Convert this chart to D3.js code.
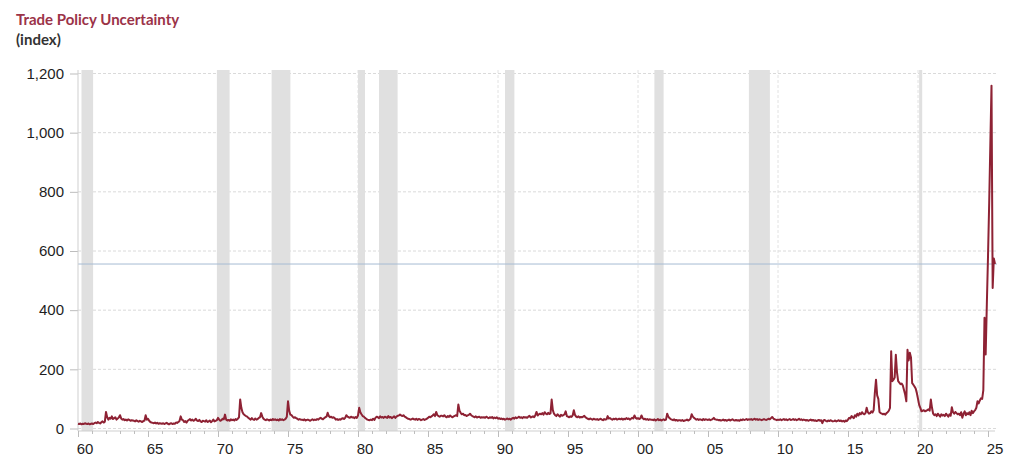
<!DOCTYPE html>
<html>
<head>
<meta charset="utf-8">
<script src="https://cdn.jsdelivr.net/npm/d3@7"></script>
<style>
  body { margin: 0; background: #fff; }
  svg { display: block; }
</style>
</head>
<body>
<svg id="chart" width="1024" height="466"></svg>
<script>
// monthly index values, Jan 1960 onward
var tpu1960s = [
    16, 15, 17, 14, 16, 15, 18, 16, 15, 17, 14, 16,
    17, 15, 18, 20, 18, 22, 19, 17, 21, 24, 20, 23,
    56, 38, 30, 36, 33, 41, 32, 35, 38, 30, 34, 37,
    45, 34, 30, 32, 28, 30, 27, 31, 29, 26, 28, 27,
    26, 24, 28, 25, 23, 26, 24, 22, 25, 27, 45, 30,
    33, 26, 22, 20, 19, 18, 20, 17, 19, 16, 18, 17,
    16, 18, 15, 17, 19, 16, 14, 17, 18, 15, 17, 16,
    20, 19, 22, 25, 41, 30, 28, 22, 25, 20, 26, 29,
    32, 27, 30, 26, 28, 33, 27, 25, 29, 24, 22, 26,
    25, 23, 28, 22, 24, 27, 21, 25, 30, 24, 26, 28
];
var tpu1970s = [
    36, 30, 26, 28, 33, 31, 47, 30, 27, 29, 26, 31,
    28, 30, 27, 32, 29, 33, 38, 98, 70, 55, 48, 45,
    42, 40, 36, 33, 30, 35, 31, 29, 34, 30, 32, 36,
    38, 52, 40, 33, 30, 28, 31, 29, 27, 30, 28, 32,
    29, 31, 28, 30, 27, 32, 29, 31, 28, 30, 33, 40,
    92, 60, 47, 45, 40, 36, 38, 35, 33, 30, 32, 30,
    30, 28, 31, 27, 29, 30, 28, 26, 29, 31, 28, 30,
    29, 32, 30, 34, 36, 33, 31, 35, 38, 40, 53, 42,
    38, 40, 36, 38, 35, 30, 32, 29, 31, 30, 33, 35,
    32, 36, 45, 40, 38, 36, 40, 37, 38, 35, 39, 36
];
var tpu1980s = [
    44, 70, 55, 48, 42, 40, 36, 33, 30, 29, 28, 30,
    28, 33, 29, 36, 40, 38, 35, 41, 37, 39, 36, 40,
    38, 36, 42, 37, 39, 35, 38, 41, 36, 40, 43, 44,
    47, 44, 42, 45, 40, 38, 35, 33, 32, 30, 31, 34,
    31, 30, 33, 29, 32, 31, 28, 30, 32, 29, 31, 33,
    36, 40, 38, 41, 44, 48, 42, 56, 45, 42, 40, 43,
    43, 41, 45, 40, 38, 42, 39, 44, 40, 38, 41, 43,
    45, 42, 81, 60, 53, 48, 50, 45, 46, 42, 44, 46,
    50, 45, 42, 40, 38, 41, 37, 39, 40, 36, 38, 37,
    38, 36, 40, 37, 35, 38, 36, 39, 34, 37, 35, 38
];
var tpu1990s = [
    33, 35, 32, 34, 31, 33, 30, 32, 34, 31, 33, 30,
    34, 36, 33, 38, 35, 37, 40, 36, 38, 35, 39, 37,
    38, 36, 40, 43, 37, 39, 41, 38, 45, 56, 44, 48,
    50, 48, 52, 47, 55, 50, 48, 53, 49, 51, 98, 62,
    50, 45, 42, 48, 44, 40, 46, 43, 45, 48, 58, 42,
    40, 38, 41, 39, 44, 62, 46, 40, 38, 41, 37, 39,
    38, 40, 43, 38, 35, 33, 31, 34, 32, 30, 33, 31,
    30, 32, 29, 31, 33, 30, 28, 32, 30, 31, 42, 34,
    35, 32, 30, 33, 31, 34, 30, 32, 33, 31, 34, 30,
    33, 31, 35, 32, 34, 30, 33, 36, 34, 44, 36, 33
];
var tpu2000s = [
    35, 32, 34, 44, 35, 31, 33, 30, 32, 29, 31, 30,
    30, 28, 31, 27, 29, 32, 28, 30, 27, 29, 31, 28,
    30, 50, 40, 35, 32, 30, 28, 31, 27, 29, 26, 28,
    28, 26, 29, 25, 27, 28, 30, 27, 29, 33, 48, 40,
    36, 33, 30, 32, 29, 31, 30, 28, 32, 29, 31, 30,
    29, 31, 28, 30, 32, 36, 31, 30, 30, 28, 29, 27,
    28, 30, 27, 29, 26, 28, 30, 27, 29, 31, 28, 27,
    29, 27, 28, 26, 30, 28, 31, 29, 30, 32, 29, 31,
    30, 32, 29, 31, 33, 30, 32, 29, 31, 30, 28, 30,
    32, 30, 29, 31, 33, 31, 35, 39, 34, 31, 30, 28
];
var tpu2010s = [
    30, 29, 31, 28, 30, 32, 29, 31, 28, 30, 32, 29,
    30, 32, 29, 31, 28, 30, 33, 29, 31, 28, 30, 29,
    27, 29, 26, 28, 30, 27, 29, 26, 28, 25, 27, 29,
    26, 28, 18, 27, 29, 26, 24, 27, 25, 28, 26, 24,
    25, 27, 24, 26, 28, 25, 27, 24, 26, 23, 27, 25,
    30, 36, 34, 42, 38, 35, 45, 40, 50, 44, 52, 48,
    55, 50, 48, 52, 70, 55, 50, 52, 58, 54, 62, 120,
    165, 112, 100, 56, 52, 50, 48, 50, 47, 52, 55, 60,
    70, 261, 160, 165, 172, 249, 190, 160, 155, 150, 152, 145,
    130, 115, 92, 266, 230, 256, 240, 153, 148, 142, 135, 120
];
var tpu2020s = [
    100, 80, 70, 58, 60, 62, 58, 60, 62, 65, 60, 98,
    70, 50, 45, 48, 42, 50, 45, 40, 48, 44, 46, 42,
    50, 45, 40, 48, 43, 72, 55, 50, 56, 52, 48, 50,
    45, 55, 36, 50, 58, 45, 52, 48, 55, 45, 60, 52,
    58, 62, 70, 92, 85, 95, 102, 100, 130, 374, 250, 420,
    580, 760, 960, 1159, 475, 575, 556
];

var latestValue = 556;
var yTicks = [0, 200, 400, 600, 800, 1000, 1200];
var xLabelYears = [1960, 1965, 1970, 1975, 1980, 1985, 1990, 1995, 2000, 2005, 2010, 2015, 2020, 2025];
var xLabels = ['60', '65', '70', '75', '80', '85', '90', '95', '00', '05', '10', '15', '20', '25'];
var decadeYears = [1970, 1980, 1990, 2000, 2010, 2020];
var recessionStart = [1960.25, 1969.92, 1973.83, 1980.0, 1981.5, 1990.5, 2001.17, 2007.92, 2020.08];
var recessionEnd = [1961.08, 1970.83, 1975.17, 1980.5, 1982.83, 1991.17, 2001.83, 2009.42, 2020.3];

var values = [].concat(tpu1960s, tpu1970s, tpu1980s, tpu1990s, tpu2000s, tpu2010s, tpu2020s);
var series = values.map(function(v, i) {
    return { t: 1960 + i / 12, v: v };
});

var svg = d3.select('#chart');
var plotLeft = 78, plotRight = 995, gridRight = 997, plotTop = 70, axisY = 431;

var x = d3.scaleLinear().domain([1960, 2025.5]).range([plotLeft, plotRight]);
var y = d3.scaleLinear().domain([0, 1200]).range([428.5, 73.5]);

svg.append('rect').attr('width', 1024).attr('height', 466).attr('fill', '#fff');

// title
svg.append('text')
    .attr('x', 16).attr('y', 25)
    .attr('font-family', 'Lato, sans-serif').attr('font-weight', 700).attr('font-size', 15)
    .attr('fill', '#9b3348')
    .text('Trade Policy Uncertainty');
svg.append('text')
    .attr('x', 16).attr('y', 45)
    .attr('font-family', 'Lato, sans-serif').attr('font-weight', 700).attr('font-size', 15)
    .attr('fill', '#333')
    .text('(index)');

// gridlines
svg.append('g').selectAll('line')
    .data(yTicks)
    .enter().append('line')
    .attr('x1', plotLeft).attr('x2', gridRight)
    .attr('y1', function(d) { return y(d); })
    .attr('y2', function(d) { return y(d); })
    .attr('stroke', '#dadada')
    .attr('stroke-dasharray', '3,2');

svg.append('g').selectAll('line')
    .data(decadeYears)
    .enter().append('line')
    .attr('x1', function(d) { return x(d); })
    .attr('x2', function(d) { return x(d); })
    .attr('y1', plotTop).attr('y2', axisY)
    .attr('stroke', '#e2e2e2')
    .attr('stroke-dasharray', '3,2');

// recession shading
svg.append('g').selectAll('rect')
    .data(recessionStart)
    .enter().append('rect')
    .attr('x', function(d) { return x(d); })
    .attr('width', function(d, i) { return x(recessionEnd[i]) - x(d); })
    .attr('y', plotTop)
    .attr('height', axisY - plotTop)
    .attr('fill', '#e0e0e0');

// latest value reference
svg.append('line')
    .attr('x1', plotLeft).attr('x2', gridRight)
    .attr('y1', y(latestValue)).attr('y2', y(latestValue))
    .attr('stroke', '#a7bbd3')
    .attr('stroke-width', 1);

// axes
var yAxis = svg.append('g')
    .attr('transform', 'translate(' + plotLeft + ',0)')
    .call(d3.axisLeft(y).tickValues(yTicks).tickSize(8).tickPadding(6).tickFormat(d3.format(',')));
yAxis.select('.domain').remove();
yAxis.selectAll('line').attr('stroke', '#bdbdbd');
yAxis.selectAll('text')
    .attr('font-family', '"Liberation Sans", Arial, sans-serif')
    .attr('font-size', 15)
    .attr('fill', '#1e1e1e');

svg.append('line')
    .attr('x1', plotLeft).attr('x2', plotLeft)
    .attr('y1', plotTop).attr('y2', axisY)
    .attr('stroke', '#cfcfcf');

var years = d3.range(1960, 2026);
var xAxis = svg.append('g')
    .attr('transform', 'translate(0,' + axisY + ')')
    .call(d3.axisBottom(x).tickValues(years).tickSize(3).tickFormat(''));
xAxis.select('.domain').attr('stroke', '#cfcfcf').attr('d', 'M' + plotLeft + ',0H' + plotRight);
xAxis.selectAll('.tick line')
    .attr('stroke', '#bdbdbd')
    .attr('y2', function(d) { return d % 5 === 0 ? 6 : 3; });

svg.append('g').selectAll('text')
    .data(xLabelYears)
    .enter().append('text')
    .attr('x', function(d) { return x(d + 0.5); })
    .attr('y', 454)
    .attr('text-anchor', 'middle')
    .attr('font-family', '"Liberation Sans", Arial, sans-serif')
    .attr('font-size', 15)
    .attr('fill', '#1e1e1e')
    .text(function(d, i) { return xLabels[i]; });

// series
var line = d3.line()
    .x(function(d) { return x(d.t); })
    .y(function(d) { return y(d.v); });

svg.append('path')
    .datum(series)
    .attr('d', line)
    .attr('fill', 'none')
    .attr('stroke', '#8e2234')
    .attr('stroke-width', 2)
    .attr('stroke-linejoin', 'round');
</script>
</body>
</html>
